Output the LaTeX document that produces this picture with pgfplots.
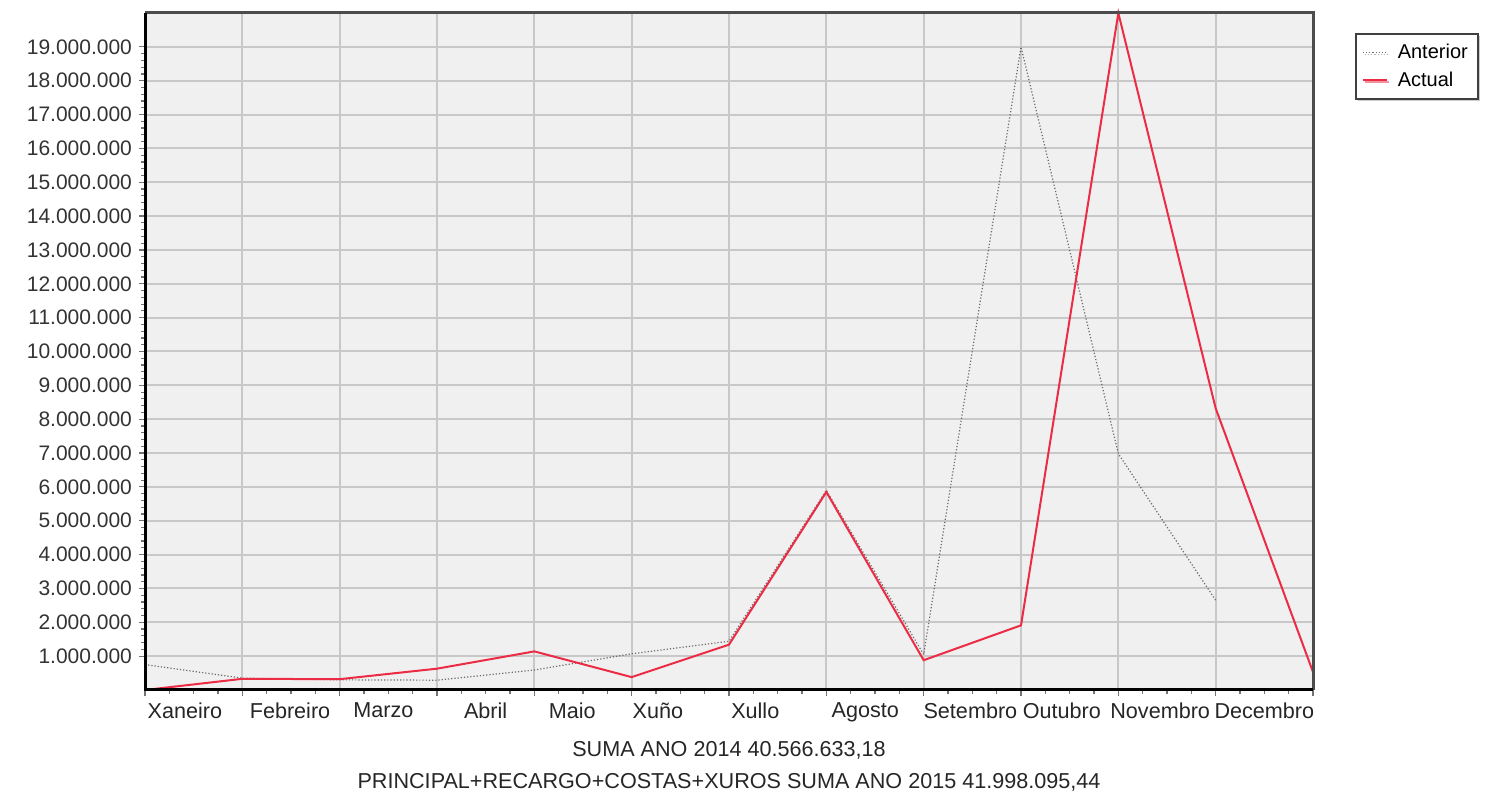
\documentclass[border=0pt]{standalone}
\usepackage{pgfplots}
\pgfplotsset{compat=1.18}
\usepackage{fontspec}
\setmainfont{Liberation Sans}
\usetikzlibrary{shadows}
\definecolor{bg}{HTML}{F0F0F0}
\definecolor{gridc}{HTML}{C8C8C8}
\definecolor{actred}{HTML}{EC2B45}
\definecolor{antgray}{HTML}{6A6A6A}
\begin{document}
\begin{tikzpicture}
\begin{axis}[name=ax, at={(0,0)}, anchor=south west,
  scale only axis, width=584pt, height=338.5pt,
  xmin=0, xmax=12, ymin=0, ymax=20000000,
  clip=false,
  axis background/.style={fill=bg},
  axis line style={draw=none},
  xtick={0,1,2,3,4,5,6,7,8,9,10,11,12}, xticklabels={},
  ytick={1000000,2000000,3000000,4000000,5000000,6000000,7000000,8000000,9000000,10000000,11000000,12000000,13000000,14000000,15000000,16000000,17000000,18000000,19000000},
  scaled y ticks=false,
  yticklabel style={/pgf/number format/fixed, /pgf/number format/1000 sep={.}, /pgf/number format/assume math mode=true,
    font=\fontsize{10.5}{12}\selectfont, text=black!80},
  minor x tick num=3, minor y tick num=4,
  tick align=outside, tick pos=left,
  major tick length=3pt, minor tick length=2pt,
  tick style={color=black!55, line width=0.6pt},
  grid=major,
  major grid style={gridc, line width=1pt},
  extra x ticks={0.41,1.49,2.45,3.5,4.39,5.27,6.27,7.4,8.48,9.42,10.43,11.5},
  extra x tick labels={Xaneiro,Febreiro,Marzo,Abril,Maio,Xuño,Xullo,Agosto,Setembro,Outubro,Novembro,Decembro},
  extra x tick style={grid=none, major tick length=0pt,
    tick label style={font=\fontsize{10.8}{12}\selectfont, text=black!85, yshift=-3pt}},
  xlabel={SUMA ANO 2014 40.566.633,18\\PRINCIPAL+RECARGO+COSTAS+XUROS SUMA ANO 2015 41.998.095,44},
  xlabel style={align=center, font=\fontsize{10.8}{16}\selectfont, text=black!85, yshift=0.5pt},
  legend style={at={(1.036,0.97)}, anchor=north west, draw=black!75, line width=0.8pt,
    fill=white, font=\fontsize{10}{12}\selectfont, row sep=1pt, inner ysep=3pt,
    drop shadow={shadow xshift=1pt, shadow yshift=-1pt, fill=black!40}},
  legend image post style={xscale=0.7},
  legend cell align=left,
]
\addplot[antgray, densely dotted, line width=0.6pt] coordinates {
 (0,750000) (1,350000) (2,300000) (3,290000) (4,590000) (5,1070000) (6,1440000)
 (7,5900000) (8,1050000) (9,19000000) (10,6980000) (11,2650000)};
\addlegendentry{\hspace{3pt}Anterior\hspace{8pt}}
\addplot[actred, line width=1pt] coordinates {
 (0,0) (1,330000) (2,320000) (3,630000) (4,1140000) (5,380000) (6,1340000)
 (7,5850000) (8,880000) (9,1910000) (10,20000000) (11,8320000) (12,530000)};
\addlegendentry{\hspace{3pt}Actual}
\draw[black!70, line width=1.5pt] (rel axis cs:0,1) -- (rel axis cs:1,1) -- (rel axis cs:1,0);
\draw[black, line width=1.5pt] (rel axis cs:0,1) -- (rel axis cs:0,0) -- (rel axis cs:1,0);
\end{axis}
\pgfresetboundingbox
\path[use as bounding box] ([shift={(-72.5pt,-52.5pt)}]ax.south west) rectangle ([shift={(86.5pt,6.5pt)}]ax.north east);
\end{tikzpicture}
\end{document}
